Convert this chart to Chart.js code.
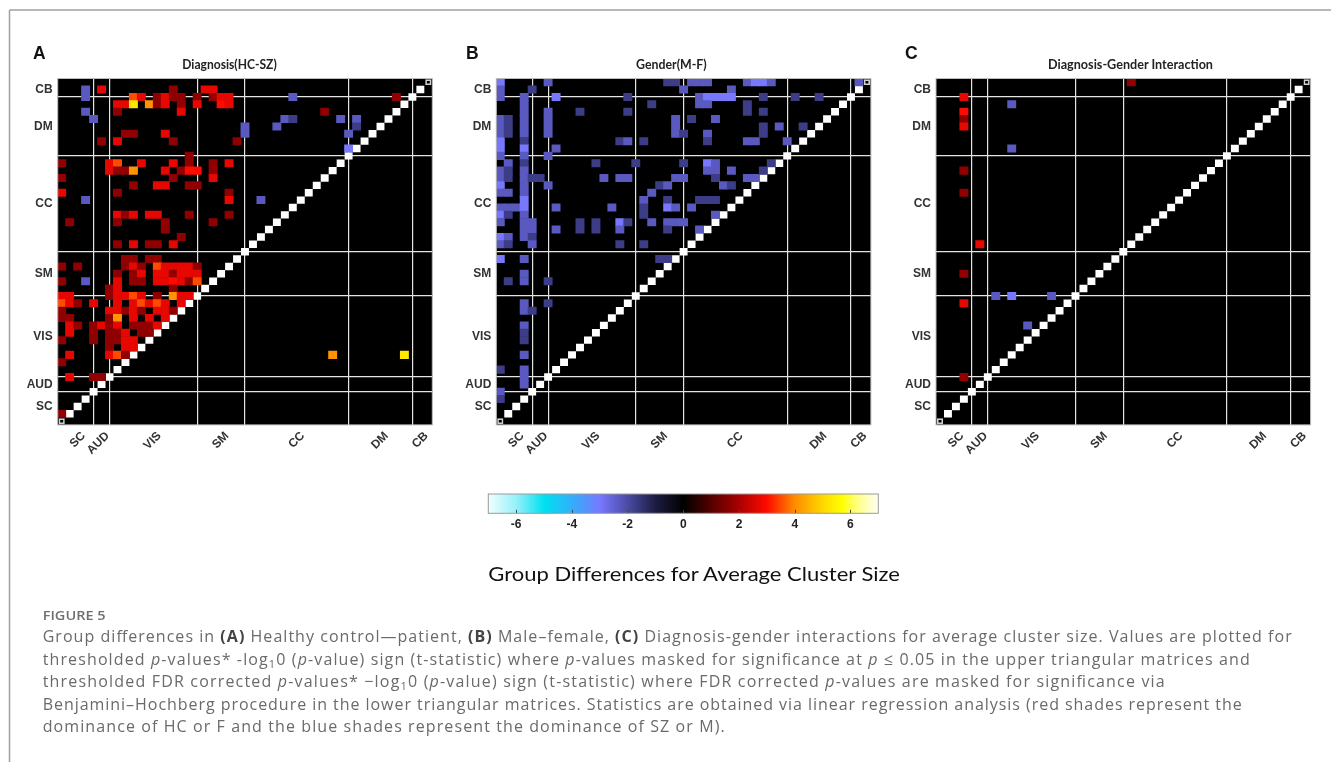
<!DOCTYPE html>
<html><head><meta charset="utf-8">
<script src="https://cdn.jsdelivr.net/npm/chart.js@4.4.1/dist/chart.umd.min.js"></script>
<style>
html,body{margin:0;padding:0;background:#fff;width:1331px;height:762px;overflow:hidden;position:relative}
canvas{position:absolute}
svg{position:absolute;left:0;top:0;pointer-events:none}
</style></head>
<body>
<canvas id="cA"></canvas><canvas id="cB"></canvas><canvas id="cC"></canvas><canvas id="cbar"></canvas>
<svg width="1331" height="762" xmlns="http://www.w3.org/2000/svg">
  <line x1="9.5" y1="10" x2="1331" y2="10" stroke="#a0a0a0" stroke-width="1.5"/>
  <line x1="9.5" y1="10" x2="9.5" y2="762" stroke="#a0a0a0" stroke-width="1.5"/>
  <g font-family="Liberation Sans, Arial, sans-serif" font-weight="bold" font-size="17.5" fill="#111">
    <text x="33" y="58.5">A</text><text x="466" y="58.5">B</text><text x="905" y="58.5">C</text>
  </g>
  <g font-family="Lato, sans-serif" font-weight="bold" font-size="12.5" fill="#222">
    <text x="182.3" y="68.5" textLength="94.4" lengthAdjust="spacingAndGlyphs">Diagnosis(HC-SZ)</text>
    <text x="636" y="68.5" textLength="70.7" lengthAdjust="spacingAndGlyphs">Gender(M-F)</text>
    <text x="1048" y="68.5" textLength="165" lengthAdjust="spacingAndGlyphs">Diagnosis-Gender Interaction</text>
  </g>
  <text x="488.3" y="580.5" font-family="Lato, sans-serif" font-size="20" fill="#111" textLength="411.7" lengthAdjust="spacingAndGlyphs">Group Differences for Average Cluster Size</text>
  <text x="42.7" y="620" font-family="Open Sans, sans-serif" font-weight="600" font-size="12.5" fill="#6f6f6f" textLength="63" lengthAdjust="spacingAndGlyphs">FIGURE 5</text>
  <g font-family="Open Sans, sans-serif" font-size="16" fill="#6a6a6a">
    <text x="42.7" y="642" textLength="1249" lengthAdjust="spacing">Group differences in <tspan font-weight="bold" fill="#444">(A)</tspan> Healthy control—patient, <tspan font-weight="bold" fill="#444">(B)</tspan> Male–female, <tspan font-weight="bold" fill="#444">(C)</tspan> Diagnosis-gender interactions for average cluster size. Values are plotted for</text>
    <text x="42.7" y="664.5" textLength="1207" lengthAdjust="spacing">thresholded <tspan font-style="italic">p</tspan>-values* -log<tspan font-size="11" dy="3">1</tspan><tspan dy="-3">0 (</tspan><tspan font-style="italic">p</tspan>-value) sign (t-statistic) where <tspan font-style="italic">p</tspan>-values masked for significance at <tspan font-style="italic">p</tspan> ≤ 0.05 in the upper triangular matrices and</text>
    <text x="42.7" y="687" textLength="1122" lengthAdjust="spacing">thresholded FDR corrected <tspan font-style="italic">p</tspan>-values* −log<tspan font-size="11" dy="3">1</tspan><tspan dy="-3">0 (</tspan><tspan font-style="italic">p</tspan>-value) sign (t-statistic) where FDR corrected <tspan font-style="italic">p</tspan>-values are masked for significance via</text>
    <text x="42.7" y="709.5" textLength="1199" lengthAdjust="spacing">Benjamini–Hochberg procedure in the lower triangular matrices. Statistics are obtained via linear regression analysis (red shades represent the</text>
    <text x="42.7" y="732" textLength="682" lengthAdjust="spacing">dominance of HC or F and the blue shades represent the dominance of SZ or M).</text>
  </g>
</svg>
<script>
// ---------------- data ----------------
const N = 47;
const groupNames = ['SC', 'AUD', 'VIS', 'SM', 'CC', 'DM', 'CB'];
const groupCentersX = [3, 6, 12.5, 21, 30.5, 41, 46];      // columns, left -> right
const groupCentersY = [45, 42, 35.5, 27, 17.5, 7, 2];      // rows, top -> bottom
const boundaryX = [5, 7, 18, 24, 37, 45];
const boundaryY = [43, 41, 30, 24, 11, 3];
const colorbarTicks = [-6, -4, -2, 0, 2, 4, 6];
const colorbarRange = [-7, 7];

// [column (1 = left), row (1 = top), value]
const cellsA = [
 [4,2,-2.3],[6,2,2.7],[15,2,1.7],[19,2,2.7],[20,2,2.7],
 [4,3,-2.3],[10,3,3.5],[11,3,2.7],[13,3,1.7],[14,3,2.7],[15,3,1.7],[16,3,1.7],[18,3,1.7],[20,3,1.7],[21,3,2.7],[22,3,2.7],[30,3,-2.3],[43,3,1.7],
 [8,4,2.7],[9,4,2.7],[10,4,5.3],[12,4,4.1],[13,4,1.7],[14,4,2.7],[16,4,1.7],[18,4,2.7],[21,4,3.0],[22,4,2.7],
 [4,5,-2.3],[8,5,1.7],[16,5,2.7],[34,5,1.7],
 [5,6,-2.3],[29,6,-2.3],[30,6,-1.7],[36,6,-2.3],[38,6,-2.3],
 [24,7,-2.3],[28,7,-2.3],[38,7,-1.7],
 [9,8,1.7],[10,8,1.7],[14,8,2.7],[24,8,-2.3],[37,8,-2.3],
 [6,9,1.7],[8,9,2.7],[15,9,1.7],[23,9,1.7],
 [37,10,-3.0],
 [17,11,1.7],
 [1,12,1.7],[7,12,2.7],[8,12,3.5],[11,12,2.7],[15,12,2.7],[17,12,1.7],[20,12,1.7],[22,12,2.7],
 [7,13,2.7],[8,13,1.7],[9,13,1.7],[10,13,4.1],[14,13,2.7],[16,13,1.7],[17,13,3.0],[18,13,3.0],[20,13,1.7],
 [1,14,1.7],[15,14,1.7],[20,14,2.7],
 [10,15,1.7],[13,15,2.7],[14,15,2.7],[17,15,1.7],[18,15,1.7],
 [1,16,2.7],[8,16,1.7],[22,16,1.7],
 [4,17,-2.3],[22,17,2.7],[26,17,-2.3],
 [8,19,2.7],[9,19,1.7],[10,19,2.7],[12,19,2.7],[13,19,2.7],[17,19,1.7],[22,19,1.7],
 [2,20,1.7],[8,20,1.7],[14,20,1.7],[20,20,1.7],
 [14,21,1.7],
 [16,22,1.7],
 [8,23,1.7],[10,23,2.7],[12,23,1.7],[13,23,1.7],[15,23,2.7],
 [9,25,1.7],[10,25,1.7],[12,25,1.7],[13,25,1.7],
 [1,26,1.7],[3,26,1.7],[9,26,1.7],[10,26,2.7],[11,26,1.7],[13,26,3.5],[14,26,2.7],[15,26,2.7],[16,26,2.7],[17,26,2.7],[18,26,1.7],
 [8,27,1.7],[10,27,1.7],[11,27,2.7],[13,27,2.7],[14,27,2.7],[15,27,1.7],[16,27,2.7],[17,27,2.7],[18,27,2.7],
 [1,28,1.7],[4,28,-2.3],[8,28,2.7],[10,28,1.7],[11,28,1.7],[13,28,2.7],[14,28,2.7],[15,28,3.0],[16,28,2.7],[17,28,1.7],[18,28,3.5],
 [7,29,1.7],[8,29,2.7],[15,29,1.7],
 [1,30,2.7],[2,30,2.7],[7,30,1.7],[8,30,2.7],[9,30,2.7],[10,30,3.5],[11,30,2.7],[13,30,1.7],[15,30,4.1],[16,30,2.7],[17,30,2.7],
 [1,31,3.5],[2,31,2.7],[3,31,1.7],[5,31,2.7],[8,31,2.7],[10,31,2.7],[11,31,3.5],[12,31,2.7],[13,31,3.5],[14,31,2.7],[16,31,2.7],
 [1,32,1.7],[7,32,2.7],[8,32,2.7],[9,32,1.7],[10,32,2.7],[11,32,1.7],[13,32,2.7],[14,32,2.7],[15,32,1.7],
 [1,33,1.7],[2,33,1.7],[7,33,1.7],[8,33,4.1],[10,33,2.7],[12,33,2.7],[14,33,2.7],
 [2,34,2.7],[3,34,1.7],[5,34,1.7],[6,34,2.7],[7,34,1.7],[8,34,2.7],[10,34,1.7],[11,34,1.7],[12,34,1.7],[13,34,2.7],
 [2,35,2.7],[5,35,1.7],[7,35,1.7],[8,35,1.7],[9,35,2.7],[11,35,1.7],[12,35,1.7],
 [1,36,1.7],[5,36,1.7],[7,36,1.7],[8,36,1.7],[9,36,2.7],[10,36,2.7],
 [7,37,1.7],[9,37,2.7],[10,37,2.7],
 [2,38,2.7],[7,38,2.7],[8,38,3.5],[9,38,1.7],[35,38,4.1],[44,38,5.3],
 [1,39,1.7],
 [2,41,2.7],[5,41,1.7],[6,41,1.7],
 [1,46,1.7]
];

const cellsB = [
 [1,1,-3.0],[1,2,-2.3],[1,3,-2.3],[1,6,-2.3],[1,7,-2.3],[1,8,-2.3],[1,9,-3.0],[1,10,-3.0],[1,11,-2.3],[1,13,-2.3],[1,14,-2.3],[1,15,-3.0],[1,16,-2.3],[1,18,-2.3],[1,19,-3.0],[1,20,-2.3],[1,22,-3.0],[1,23,-2.3],[1,25,-3.0],[1,40,-1.7],[1,43,-2.3],[1,44,-1.7],
 [2,6,-1.7],[2,7,-1.7],[2,8,-1.7],[2,12,-2.3],[2,13,-1.7],[2,14,-1.7],[2,16,-2.3],[2,18,-2.3],[2,19,-1.7],[2,22,-2.3],[2,23,-1.7],[2,28,-1.7],
 [3,18,-2.3],
 [4,3,-2.3],[4,4,-2.3],[4,5,-2.3],[4,6,-2.3],[4,7,-2.3],[4,8,-2.3],[4,9,-1.7],[4,10,-3.0],[4,11,-2.3],[4,12,-1.7],[4,13,-2.3],[4,14,-2.3],[4,15,-2.3],[4,16,-2.3],[4,17,-3.0],[4,18,-3.0],[4,19,-2.3],[4,20,-2.3],[4,21,-2.3],[4,22,-2.3],
 [4,25,-2.3],[4,27,-2.3],[4,28,-2.3],[4,31,-2.3],[4,32,-2.3],[4,34,-2.3],[4,35,-1.7],[4,36,-1.7],[4,38,-2.3],[4,40,-2.3],[4,41,-2.3],[4,42,-2.3],
 [5,2,-1.7],[5,14,-1.7],[5,20,-2.3],[5,21,-2.3],[5,22,-1.7],[5,23,-2.3],[5,32,-1.7],
 [6,14,-1.7],
 [7,1,-2.3],[7,5,-2.3],[7,6,-2.3],[7,7,-2.3],[7,8,-2.3],[7,11,-2.3],[7,15,-2.3],[7,28,-1.7],[7,31,-1.7],
 [8,3,-3.0],[8,10,-2.3],[8,18,-2.3],[8,21,-2.3],
 [11,5,-1.7],[11,20,-1.7],[11,21,-1.7],
 [13,12,-1.7],[13,20,-1.7],[13,21,-1.7],
 [14,14,-2.3],
 [15,18,-2.3],
 [16,9,-1.7],[16,14,-2.3],[16,20,-3.0],[16,21,-2.3],[16,23,-1.7],
 [17,3,-1.7],[17,5,-1.7],[17,9,-2.3],[17,14,-2.3],[17,20,-1.7],
 [18,12,-1.7],
 [19,9,-1.7],[19,17,-2.3],[19,18,-1.7],[19,19,-1.7],[19,23,-1.7],
 [20,4,-1.7],[20,16,-2.3],[20,20,-2.3],
 [21,15,-1.7],[21,25,-1.7],
 [22,1,-1.7],[22,15,-2.3],[22,17,-1.7],[22,18,-3.0],[22,20,-2.3],[22,21,-1.7],[22,25,-1.7],
 [23,1,-1.7],[23,6,-2.3],[23,7,-2.3],[23,8,-2.3],[23,14,-2.3],[23,18,-2.3],[23,20,-2.3],
 [24,2,-2.3],[24,8,-1.7],[24,12,-1.7],[24,14,-2.3],[24,20,-2.3],
 [25,1,-2.3],[25,6,-1.7],[25,18,-2.3],
 [26,1,-2.3],[26,3,-2.3],[26,4,-2.3],[26,17,-1.7],[26,21,-2.3],
 [27,1,-2.3],[27,3,-3.0],[27,4,-2.3],[27,8,-2.3],[27,9,-1.7],[27,12,-3.0],[27,13,-2.3],[27,17,-1.7],
 [28,3,-3.0],[28,6,-2.3],[28,12,-2.3],[28,13,-2.3],[28,14,-1.7],[28,17,-1.7],[28,19,-2.3],
 [29,3,-3.0],[29,15,-2.3],
 [30,2,-2.3],[30,3,-3.0],[30,13,-2.3],[30,15,-1.7],
 [32,1,-2.3],[32,4,-1.7],[32,5,-1.7],[32,9,-2.3],[32,14,-2.3],
 [33,1,-3.0],[33,9,-2.3],[33,14,-2.3],
 [34,1,-3.0],[34,3,-1.7],[34,5,-1.7],[34,7,-1.7],[34,8,-1.7],[34,13,-1.7],
 [35,1,-2.3],[35,12,-1.7],
 [36,7,-2.3],
 [37,9,-2.3],
 [38,3,-1.7],
 [39,7,-1.7],
 [41,3,-1.7],
 [46,1,-2.3]
];

const cellsC = [
 [25,1,1.7],[4,3,2.7],[10,4,-2.3],[4,5,3.0],[4,6,1.7],[4,7,2.7],[10,10,-2.3],[4,13,1.7],[4,16,1.7],
 [6,23,2.7],[4,27,1.7],[8,30,-2.3],[10,30,-3.0],[15,30,-2.3],[4,31,2.7],[12,34,-2.3],[4,41,1.7]
];

// ---------------- colormap ----------------
const cmapVals = [-7,-6,-5,-4,-3,-2,-1,0,1,2,3,4,5,5.7,6.3,7];
const cmapRGB = [[240,255,255],[150,240,250],[0,225,240],[50,175,250],[120,120,255],[75,75,165],[28,28,66],[0,0,0],[85,0,0],[170,0,0],[255,10,0],[255,140,0],[255,215,0],[255,255,0],[255,255,140],[255,255,245]];
function colorFor(v) {
  if (v <= cmapVals[0]) return 'rgb(' + cmapRGB[0] + ')';
  for (let i = 1; i < cmapVals.length; i++) {
    if (v <= cmapVals[i]) {
      const t = (v - cmapVals[i-1]) / (cmapVals[i] - cmapVals[i-1]);
      const a = cmapRGB[i-1], b = cmapRGB[i];
      return 'rgb(' + a.map((x, k) => Math.round(x + (b[k] - x) * t)).join(',') + ')';
    }
  }
  return 'rgb(' + cmapRGB[cmapRGB.length - 1] + ')';
}

// ---------------- layout ----------------
const PLOT_TOP = 78.5, PLOT_W = 374.6, PLOT_H = 346.4;
const CAN_TOP = 70, CAN_W = 430, CAN_H = 405;
const LINE_COLOR = '#e4e4e4';
const axisFont = {family: 'Liberation Sans, Arial, sans-serif', weight: 'bold', size: 12};

const bgPlugin = {
  id: 'bg',
  beforeDraw(chart) {
    const a = chart.chartArea, c = chart.ctx;
    c.save(); c.fillStyle = '#000'; c.fillRect(a.left, a.top, a.right - a.left, a.bottom - a.top); c.restore();
  },
  afterDraw(chart) {
    const a = chart.chartArea, c = chart.ctx;
    c.save(); c.strokeStyle = '#bdbdbd'; c.lineWidth = 1;
    c.strokeRect(a.left, a.top, a.right - a.left, a.bottom - a.top); c.restore();
  }
};

function matrixChart(id, cells, plotLeft) {
  const cv = document.getElementById(id);
  const L = Math.floor(plotLeft) - 45;
  const yW = plotLeft - L;
  const padT = PLOT_TOP - CAN_TOP;
  const padR = CAN_W - yW - PLOT_W;
  const xH = CAN_H - padT - PLOT_H;
  cv.style.left = L + 'px'; cv.style.top = CAN_TOP + 'px';
  cv.width = CAN_W; cv.height = CAN_H;
  const cw = PLOT_W / N;

  const diag = [];
  for (let col = 2; col <= N - 1; col++) diag.push({x: col, y: [N + 1 - col - 0.46, N + 1 - col + 0.46]});
  const corners = [{x: 1, y: [N - 0.35, N + 0.35]}, {x: N, y: [1 - 0.35, 1 + 0.35]}];

  const xTicks = [...groupCentersX, ...boundaryX].sort((a, b) => a - b);
  const yTicks = [...groupCentersY, ...boundaryY].sort((a, b) => a - b);

  return new Chart(cv, {
    type: 'bar',
    data: {
      datasets: [
        {data: cells.map(([c, r, v]) => ({x: c, y: [r - 0.5, r + 0.5], v})),
         backgroundColor: ctx => (ctx.raw ? colorFor(ctx.raw.v) : '#000'),
         borderWidth: 0, barThickness: cw + 0.3, grouped: false},
        {data: diag, backgroundColor: '#ffffff', borderWidth: 0, barThickness: cw - 0.7, grouped: false},
        {data: corners, backgroundColor: 'rgba(0,0,0,0)', borderColor: '#cfcfcf', borderWidth: 1, borderSkipped: false,
         barThickness: cw - 2.4, grouped: false}
      ]
    },
    options: {
      responsive: false, animation: false, events: [], devicePixelRatio: 1,
      layout: {padding: {left: 0, top: padT, right: padR, bottom: 0}},
      plugins: {legend: {display: false}, tooltip: {enabled: false}},
      scales: {
        x: {
          type: 'linear', min: 0.5, max: N + 0.5, offset: false, bounds: 'data', z: 1,
          afterBuildTicks: s => { s.ticks = xTicks.map(v => ({value: v})); },
          afterFit: s => { s.height = xH; s.paddingLeft = 0; s.paddingRight = 0; },
          grid: {offset: false, drawTicks: false, lineWidth: 1.2,
                 color: ctx => (ctx.tick && boundaryX.includes(ctx.tick.value)) ? LINE_COLOR : 'rgba(0,0,0,0)'},
          border: {display: false},
          ticks: {autoSkip: false, minRotation: 45, maxRotation: 45, padding: 4, labelOffset: 6,
                  font: axisFont, color: '#333',
                  callback: v => { const i = groupCentersX.indexOf(v); return i >= 0 ? groupNames[i] : ''; }}
        },
        y: {
          type: 'linear', min: 0.5, max: N + 0.5, reverse: true, offset: false, bounds: 'data', beginAtZero: false, z: 1,
          afterBuildTicks: s => { s.ticks = yTicks.map(v => ({value: v})); },
          afterFit: s => { s.width = yW; s.paddingTop = 0; s.paddingBottom = 0; },
          grid: {offset: false, drawTicks: false, lineWidth: 1.2,
                 color: ctx => (ctx.tick && boundaryY.includes(ctx.tick.value)) ? LINE_COLOR : 'rgba(0,0,0,0)'},
          border: {display: false},
          ticks: {autoSkip: false, padding: 5, font: axisFont, color: '#333',
                  callback: v => { const i = groupCentersY.indexOf(v); return i >= 0 ? groupNames[i] : ''; }}
        }
      }
    },
    plugins: [bgPlugin]
  });
}

matrixChart('cA', cellsA, 57.7);
matrixChart('cB', cellsB, 496.3);
matrixChart('cC', cellsC, 936);

// ---------------- colorbar ----------------
(function () {
  const cv = document.getElementById('cbar');
  const L = 478, T = 484, W = 410, H = 52;
  const barLeft = 488.3, barRight = 878.3, barTop = 494, barBottom = 513.3;
  cv.style.left = L + 'px'; cv.style.top = T + 'px'; cv.width = W; cv.height = H;
  const xH = H - (barBottom - T);
  const gradPlugin = {
    id: 'grad',
    beforeDatasetsDraw(chart) {
      const a = chart.chartArea, c = chart.ctx, xs = chart.scales.x;
      const p0 = xs.getPixelForValue(colorbarRange[0]), p1 = xs.getPixelForValue(colorbarRange[1]);
      const g = c.createLinearGradient(p0, 0, p1, 0);
      cmapVals.forEach(v => g.addColorStop((xs.getPixelForValue(v) - p0) / (p1 - p0), colorFor(v)));
      c.save();
      c.fillStyle = g; c.fillRect(a.left, a.top, a.right - a.left, a.bottom - a.top);
      c.strokeStyle = '#444'; c.lineWidth = 1;
      colorbarTicks.forEach(v => {
        const px = Math.round(xs.getPixelForValue(v)) + 0.5;
        c.beginPath(); c.moveTo(px, a.bottom); c.lineTo(px, a.bottom - 3.5); c.stroke();
      });
      c.strokeStyle = '#9a9a9a';
      c.strokeRect(a.left, a.top, a.right - a.left, a.bottom - a.top);
      c.restore();
    }
  };
  new Chart(cv, {
    type: 'bar',
    data: {datasets: []},
    options: {
      responsive: false, animation: false, events: [], devicePixelRatio: 1,
      layout: {padding: {left: barLeft - L, right: L + W - barRight, top: barTop - T, bottom: 0}},
      plugins: {legend: {display: false}, tooltip: {enabled: false}},
      scales: {
        x: {type: 'linear', min: colorbarRange[0], max: colorbarRange[1], offset: false, bounds: 'data',
            afterBuildTicks: s => { s.ticks = colorbarTicks.map(v => ({value: v})); },
            afterFit: s => { s.height = xH; s.paddingLeft = 0; s.paddingRight = 0; },
            grid: {display: false, drawTicks: false}, border: {display: false},
            ticks: {autoSkip: false, maxRotation: 0, minRotation: 0, padding: 4, font: axisFont, color: '#222',
                    callback: v => String(v)}},
        y: {display: false, min: 0, max: 1}
      }
    },
    plugins: [gradPlugin]
  });
})();
</script>
</body></html>
